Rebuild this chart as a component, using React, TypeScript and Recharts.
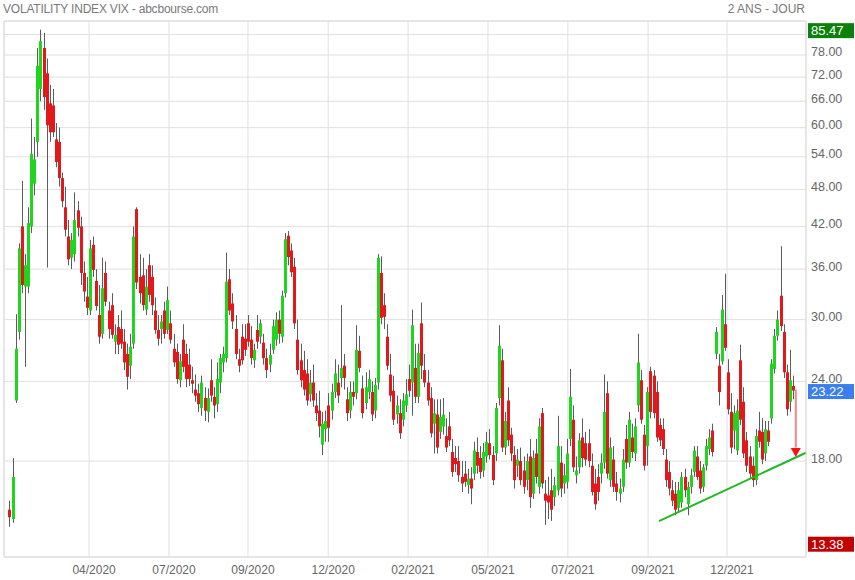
import { ComposedChart, Bar, XAxis, YAxis, CartesianGrid, ReferenceLine, ReferenceDot } from 'recharts';

// VIX daily candles (two sessions per candle)
const opens = [
  15.1, 14.6, 22.4, 28.7, 42, 33.8, 33.8, 42, 49, 57, 69, 80, 73, 65.5, 65, 57.5, 57, 50, 45, 40.5,
  37.5, 38, 44.5, 42, 35.5, 32.6, 31, 39.3, 34.5, 30.5, 28.5, 35.5, 31, 31.6, 27.7, 29.2, 29, 27.7, 26.5, 25.4,
  27.5, 44.7, 35, 35.2, 31.1, 36.5, 35, 31, 28.9, 29, 31, 28.9, 29.6, 27, 26.7, 24.1, 27.9, 26.5, 25.5, 24.1,
  23.3, 23, 21.8, 22.6, 21.5, 24.1, 22.7, 22.1, 23.9, 25.7, 26.1, 34.7, 31.8, 29, 26, 28.2, 28, 29.6, 27.9, 25.9,
  28.9, 28.2, 27.6, 26.1, 25.5, 26.9, 27.9, 30, 28.2, 33, 40.6, 38.5, 36.3, 27.9, 25.9, 25, 24.7, 22.9, 23.9, 22,
  21.6, 19.1, 20.2, 22, 21.6, 23.1, 23.9, 24.3, 25.4, 22.5, 21.6, 23.1, 23, 26.8, 23.4, 22.2, 23.1, 23.1, 21.6, 23.9,
  35.5, 31.6, 28.2, 24.6, 23.2, 21.3, 21.4, 20.9, 22, 24.2, 23.9, 25.2, 22.7, 29.6, 25, 23.9, 22.6, 20.6, 21.3, 20,
  20.4, 19.7, 20.4, 18.6, 18.2, 18, 17, 17.2, 16.5, 16.9, 17.2, 18.6, 18.2, 17.4, 18.3, 19.2, 18.4, 18.5, 22.6, 25.9,
  18.9, 22.4, 19.8, 18.4, 17.7, 18, 17.4, 16.8, 18.3, 16, 18.5, 16.4, 21.4, 16, 15.9, 16.2, 15.8, 16.2, 17.9, 16.6,
  16.7, 19.5, 20.9, 17.1, 17.6, 19.6, 19.2, 19.2, 17.7, 16.6, 17, 17.2, 17.9, 23, 16.8, 18.1, 16.6, 16, 16.4, 19.5,
  17.9, 19.6, 18.5, 22, 24.1, 19.8, 19, 24.9, 24.5, 23.1, 20.5, 20.2, 18.1, 17.3, 16.2, 16, 15.2, 15.5, 17, 15.4,
  16.4, 17.3, 18.3, 17.4, 16.4, 17.7, 18.8, 20.1, 26.5, 25.4, 25.8, 29.5, 24.8, 21.5, 20.1, 18.7, 25.9, 22.3, 19.4, 18.3,
  17.7, 16.8, 20.1, 20, 18.5, 20.1, 21, 25.1, 28.3, 32.7, 28.7, 24.8, 22.3, 23.6,
];
const highs = [
  15.6, 18.2, 30.6, 39.5, 49.5, 38, 45, 62, 58, 80, 85.47, 84.5, 77, 70, 69, 61, 60, 51, 48.5, 43,
  41, 47.5, 46, 43.5, 37, 35, 40, 40.5, 36, 34, 37.5, 37, 32, 33, 29.5, 30.5, 31, 29, 27.5, 28.5,
  42, 45, 38, 37.5, 36, 38, 36.5, 32.5, 30.5, 30.5, 32, 33.8, 31, 28.5, 27.5, 26.5, 29.5, 27.5, 27, 25.3,
  24.6, 23.8, 24.5, 23.5, 23.4, 26, 23.5, 25.7, 26.5, 27.2, 38.2, 36, 33, 30.5, 27, 29.5, 29.5, 30.5, 29.3, 27.5,
  30.5, 30, 28.5, 27, 27.5, 30, 30.8, 31, 33.3, 41, 41.3, 39.5, 37.5, 30, 27.5, 26.8, 26, 25, 25.5, 23,
  23.2, 21.5, 21.6, 23, 23.8, 26, 25.5, 31.6, 26.5, 23.5, 24, 24, 29.4, 28.3, 24.5, 24.8, 25, 24, 24.3, 38,
  37.7, 33, 29.5, 26.5, 24.5, 22.8, 22.5, 23, 24.2, 25.5, 31.1, 27.5, 27.5, 31.9, 26.5, 25, 23.5, 22.5, 22.5, 22.5,
  22.6, 21, 21.5, 19.5, 19, 19, 18, 18, 17.5, 17.6, 19.3, 19.6, 19, 19.2, 20, 20.2, 19, 22.2, 29.4, 27,
  21.5, 23.5, 20.3, 19, 18.8, 18.9, 18.3, 18.5, 19.5, 18.7, 19.5, 21, 21.8, 16.8, 17, 17.5, 17, 21.2, 19, 17.8,
  19.5, 25.1, 22, 18.3, 19.9, 21, 20, 20.2, 18.5, 17.5, 17.8, 18.5, 24.6, 24, 19.6, 19, 17.3, 16.9, 18.8, 20.5,
  21.5, 20.6, 21, 28.5, 25, 20.5, 23.5, 25.3, 25, 24, 21, 21, 18.8, 18, 16.8, 16.7, 16.7, 17.3, 17.5, 16.7,
  17.5, 19, 19, 18, 17.8, 19.5, 20.2, 20.6, 29.2, 26.5, 32.8, 35.4, 26, 23, 22, 22.5, 27.4, 23.5, 20, 19,
  18.3, 20.2, 21.5, 21, 20.8, 20.8, 26, 29, 31, 39.1, 29.5, 25.5, 26.9, 24.5,
];
const lows = [
  14.2, 14.4, 22.2, 27.9, 33, 25.3, 33, 41, 47, 54, 66, 64, 36.2, 57, 58, 52, 48.5, 45, 40.5, 36.5,
  36, 37, 40.5, 34, 32, 30.5, 30.5, 35, 31, 27.5, 28, 31.5, 28, 28, 26.5, 26.5, 27, 25, 23.3, 24.2,
  27, 33.5, 31.8, 31, 30.5, 32, 30.5, 28.5, 27.3, 27.5, 28, 28.5, 27.5, 25.3, 23.8, 23.5, 24.8, 23.5, 23.6, 23,
  22.3, 21.5, 21.2, 20.8, 20.7, 22.3, 21, 21.5, 23, 24.8, 25.7, 30.5, 29, 26, 24.8, 25.5, 26.3, 27.2, 25.5, 25.2,
  27, 27.5, 25.5, 24.3, 24.8, 26.5, 27.3, 27.5, 27.6, 32.5, 36.5, 35, 29, 24.6, 23.5, 22.8, 22, 22.3, 21.9, 20.8,
  19.6, 18.4, 19.3, 19.3, 20.9, 22.6, 22.2, 23.5, 23.3, 20.8, 21, 22, 22.5, 24.8, 21, 21.7, 22.5, 20.8, 21, 23.3,
  29.5, 29, 25, 22.3, 20.5, 20.6, 19.5, 20.4, 21.5, 22.7, 21.2, 22.2, 22.2, 24.2, 23.5, 22, 19.6, 18.5, 18.5, 19.5,
  19.8, 18.6, 19, 17, 17.3, 16.7, 16.1, 16.4, 16, 15.4, 16.8, 17.2, 16.9, 17, 17.9, 18.1, 16.5, 18, 22, 18.6,
  18.4, 19, 18, 16.3, 17, 16.5, 16, 16.2, 15.2, 15.7, 16.6, 16, 16.3, 14.3, 14.6, 14.5, 15.3, 15.9, 15.8, 16,
  16.3, 19, 17.3, 16.6, 17.2, 17.6, 17.7, 17.6, 15.9, 15.1, 15.6, 16.6, 17.5, 16.9, 16.4, 16.1, 15.6, 15.5, 16.1, 17.5,
  17.6, 18.2, 18, 21.5, 20.6, 17.4, 17.7, 21, 21, 19.3, 19, 18.4, 16.4, 15.9, 15.3, 14.8, 15, 15.2, 15.8, 14.8,
  16, 17, 16.8, 16, 16.1, 17.4, 18.4, 18.3, 26, 22, 25.5, 26.8, 21.3, 18.5, 18.8, 18.4, 20.5, 18.2, 17.3, 16.9,
  16.4, 16.5, 18.9, 17.8, 18, 19, 20.6, 24.7, 27.8, 28.8, 24.3, 21.2, 21.5, 22.5,
];
const closes = [
  14.7, 17.0, 27.0, 38.8, 34, 36.5, 42.5, 54.6, 53.5, 75, 82, 67, 60.5, 59, 59, 53, 50, 46, 41.5, 37.3,
  40, 43, 41.8, 35.5, 33.2, 31.3, 38.8, 35.9, 31.5, 28.2, 33.6, 32, 29, 28.4, 28.4, 27.4, 27.5, 25.7, 24.4, 27.2,
  40.5, 34.3, 33, 31.6, 33.8, 32.8, 31.6, 28.9, 28, 29.8, 28.5, 32.2, 27.9, 25.7, 24.2, 25.8, 25.3, 24.2, 24.2, 23.8,
  22.8, 22.1, 23.9, 21.6, 22.6, 22.8, 22, 24.2, 26.1, 26.5, 34.4, 31, 29.8, 26.5, 25.4, 25.9, 26.9, 27.7, 26.1, 26.9,
  27.7, 29.6, 26.1, 25, 26.4, 29.3, 30, 28.5, 32.7, 40.1, 37.6, 35.6, 29.6, 25, 24.1, 23.3, 22.4, 23.9, 22.4, 21.4,
  20.4, 20.6, 20.8, 20.3, 23.1, 24.7, 22.8, 25.2, 24.3, 21.4, 23.1, 22.7, 26.9, 25.2, 21.4, 23.5, 24.2, 21.3, 23.7, 37.5,
  30.2, 30.3, 25.4, 22.8, 20.9, 22, 19.9, 22.4, 22.9, 23.2, 29.4, 22.7, 26.6, 25.4, 23.9, 22.4, 19.9, 21.4, 18.9, 21.1,
  21.3, 18.9, 19.4, 17.3, 17.8, 17.1, 16.6, 16.7, 16.9, 16.3, 18.7, 17.7, 17.3, 18.6, 19.3, 18.4, 16.8, 21.8, 27.3, 18.9,
  20.8, 19.4, 18.5, 16.8, 18.1, 16.8, 16.4, 18, 15.8, 18.2, 17, 20.4, 16.6, 15.6, 15.5, 15.1, 16.5, 19, 16.3, 17.1,
  18.5, 22.7, 17.6, 17.4, 19.4, 18.2, 18.1, 18, 16.1, 15.4, 16.1, 17.9, 21.5, 17.2, 18.9, 16.4, 16.1, 16.3, 18.1, 17.9,
  20.9, 18.6, 20.4, 25.7, 20.9, 17.7, 23.1, 21.5, 21.4, 19.6, 19.4, 18.8, 16.8, 16.3, 15.6, 15.1, 16.2, 17, 16.2, 16.4,
  17.1, 18.7, 17, 16.3, 17.6, 19, 19.6, 18.6, 28.7, 23.1, 31.1, 27.1, 21.7, 18.9, 21.4, 21.6, 20.9, 18.5, 17.7, 17.2,
  16.8, 19.7, 19.3, 18.1, 20.2, 19.3, 25.6, 28.3, 30, 29.3, 24.8, 21.7, 24.1, 23.22,
];

const yTicks = [18, 24, 30, 36, 42, 48, 54, 60, 66, 72, 78, 84];
const xTickPos = [25.7, 51.5, 77.0, 102.9, 128.7, 154.5, 180.3, 206.2, 231.7];
const xTickLabels = ['04/2020', '07/2020', '09/2020', '12/2020', '02/2021', '05/2021', '07/2021', '09/2021', '12/2021'];
// price tags on the right: period high, last close, period low
const tagValues = [85.47, 23.22, 13.38];
const tagColors = ['#0b800b', '#3a7ef0', '#c20000'];
// drawn annotations (index, price)
const trendLine = [{ x: 209.7, y: 14.49 }, { x: 257.2, y: 18.55 }];
const arrowLine = [{ x: 253.9, y: 23.3 }, { x: 253.9, y: 18.9 }];
const arrowHead = { x: 253.9, y: 18.56 };

const data = closes.map((c, i) => ({
  i,
  open: opens[i],
  high: highs[i],
  low: lows[i],
  close: c,
  range: [lows[i], highs[i]],
}));

const FONT = 'Arial, "Liberation Sans", Helvetica, sans-serif';

function Candle(props: any) {
  const { x, y, width, height, payload } = props;
  if (x == null || y == null) return <g />;
  const top = Math.min(y, y + height);
  const h = Math.abs(height);
  const lh = Math.log(payload.high);
  const ll = Math.log(payload.low);
  const toY = (v: number) => top + ((lh - Math.log(v)) / (lh - ll || 1)) * h;
  const cx = Math.round(x + width / 2);
  const yo = toY(payload.open);
  const yc = toY(payload.close);
  const up = payload.close >= payload.open;
  const by = Math.min(yo, yc);
  const bh = Math.max(1, Math.abs(yc - yo));
  return (
    <g>
      <line x1={cx + 0.5} x2={cx + 0.5} y1={top} y2={top + h} stroke="#5c5c5c" strokeWidth={1} />
      <rect x={cx - 1} y={by} width={3} height={bh} fill={up ? '#1fd61f' : '#e3181b'} />
    </g>
  );
}

function YTick(props: any) {
  const { x, y, payload } = props;
  if (payload.value === 84) return <g />;
  return (
    <text x={x} y={y - 3} dy="0.355em" fill="#666" fontSize={12.5} fontFamily={FONT} textAnchor="start">
      {Number(payload.value).toFixed(2)}
    </text>
  );
}

function XTick(props: any) {
  const { x, y, payload } = props;
  const k = xTickPos.indexOf(payload.value);
  return (
    <text x={x + 5} y={y} dy="0.71em" fill="#666" fontSize={12} fontFamily={FONT} textAnchor="middle">
      {xTickLabels[k]}
    </text>
  );
}

function makeTag(color: string, text: string) {
  return (props: any) => {
    const vb = props.viewBox || {};
    const py = vb.y + 1;
    const left = vb.x + vb.width + 2;
    return (
      <g>
        <rect x={left} y={py - 7.5} width={46} height={15} fill={color} />
        <text x={left + 3} y={py} dy="0.36em" fill="#fff" fontSize={13} fontFamily={FONT}>
          {text}
        </text>
      </g>
    );
  };
}

export default function App() {
  return (
    <div style={{ position: 'absolute', left: 0, top: 0, width: 855, height: 580, background: '#fff', fontFamily: FONT }}>
      <div style={{ position: 'absolute', left: 3, top: 3, fontSize: 12, lineHeight: '12px', color: '#7a7a7a', letterSpacing: '-0.2px', whiteSpace: 'nowrap' }}>
        VOLATILITY INDEX VIX - abcbourse.com
      </div>
      <div style={{ position: 'absolute', right: 50, top: 2.5, fontSize: 12, lineHeight: '12px', color: '#7a7a7a', whiteSpace: 'nowrap' }}>
        2 ANS - JOUR
      </div>
      <ComposedChart width={855} height={580} data={data} margin={{ top: 21, right: 0, bottom: 0, left: 4 }}>
        <CartesianGrid stroke="#e0e0e0" />
        <XAxis
          dataKey="i"
          type="number"
          domain={[-1.776, 257.198]}
          allowDataOverflow
          ticks={xTickPos}
          interval={0}
          tickLine={false}
          tickSize={0}
          tickMargin={8}
          height={23}
          axisLine={{ stroke: '#dcdcdc' }}
          tick={<XTick />}
        />
        <YAxis
          orientation="right"
          type="number"
          scale="log"
          domain={[12.73, 88.18]}
          allowDataOverflow
          ticks={yTicks}
          interval={0}
          tickLine={false}
          tickSize={0}
          tickMargin={5}
          width={49}
          axisLine={{ stroke: '#dcdcdc' }}
          tick={<YTick />}
        />
        <ReferenceLine y={88.18} stroke="#dcdcdc" ifOverflow="visible" />
        <ReferenceLine x={-1.776} stroke="#dcdcdc" ifOverflow="visible" />
        <Bar dataKey="range" shape={<Candle />} barSize={3} isAnimationActive={false} />
        <ReferenceLine segment={trendLine} stroke="#22b822" strokeWidth={2} ifOverflow="visible" />
        <ReferenceLine segment={arrowLine} stroke="#f28585" strokeWidth={2} ifOverflow="visible" />
        <ReferenceDot
          x={arrowHead.x}
          y={arrowHead.y}
          r={5}
          ifOverflow="visible"
          shape={(p: any) => (
            <polygon points={`${p.cx - 5},${p.cy - 4.5} ${p.cx + 5},${p.cy - 4.5} ${p.cx},${p.cy + 4.5}`} fill="#ff1010" />
          )}
        />
        {tagValues.map((v, k) => (
          <ReferenceLine
            key={v}
            y={v}
            stroke="none"
            ifOverflow="visible"
            label={makeTag(tagColors[k], v.toFixed(2))}
          />
        ))}
      </ComposedChart>
    </div>
  );
}
